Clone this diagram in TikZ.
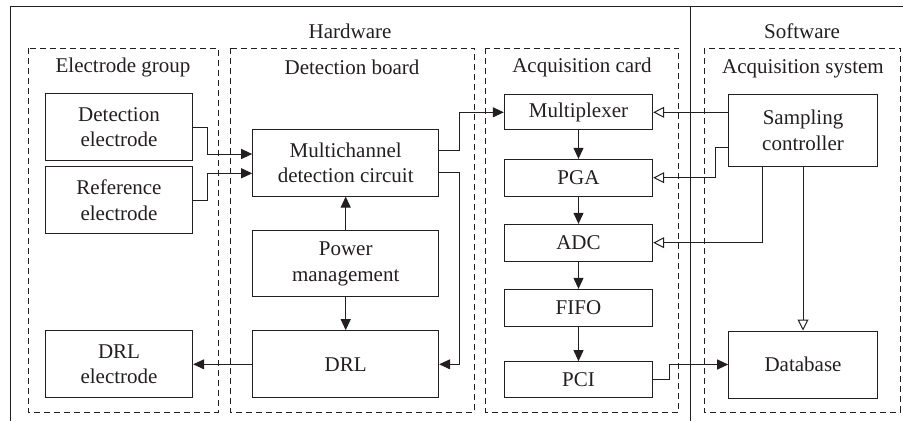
\documentclass[tikz,border=0pt]{standalone}
\usepackage{fontspec}
\setmainfont{Liberation Serif}
\usetikzlibrary{arrows.meta}
\definecolor{ink}{HTML}{231F20}
\begin{document}
\begin{tikzpicture}[x=1pt,y=-1pt,
  every node/.style={text=ink,font=\fontsize{21}{25.5}\selectfont},
  box/.style={draw=ink,line width=1pt,align=center,inner sep=0pt},
  grp/.style={draw=ink,line width=1pt,dash pattern=on 6pt off 4pt},
  fa/.style={draw=ink,line width=1pt,-{Triangle[length=11pt,width=10pt]}},
  oa/.style={draw=ink,line width=1pt,-{Triangle[open,length=11pt,width=11pt]}},
  ln/.style={draw=ink,line width=1pt}]
\useasboundingbox (0,0) rectangle (903,421);
% frame
\draw[ln] (10,421) -- (10,6) -- (903,6);
\draw[ln] (690.7,6) -- (690.7,421);
\node (hw) at (350,31) {Hardware};
\node (sw) at (802,31) {Software};
% groups
\draw[grp] (28,48) rectangle (218,412);
\draw[grp] (230,48) rectangle (474.3,412);
\draw[grp] (485.7,48) rectangle (678.7,412);
\draw[grp] (704.3,48) rectangle (900.7,412);
\node (t1) at (123,67) {Electrode group};
\node (t2) at (352,67) {Detection board};
\node (t3) at (582,67) {Acquisition card};
\node (t4) at (803,69) {Acquisition system};
% nodes
\node[box,minimum width=147.4pt,minimum height=67.4pt] (det) at (119,127) {Detection\\electrode};
\node[box,minimum width=147.4pt,minimum height=67.3pt] (ref) at (119,200.3) {Reference\\electrode};
\node[box,minimum width=147.4pt,minimum height=67.3pt] (drle) at (119,364.3) {DRL\\electrode};
\node[box,minimum width=186pt,minimum height=66.7pt] (mc) at (345.7,162.7) {Multichannel\\detection circuit};
\node[box,minimum width=186pt,minimum height=66pt] (pow) at (345.7,263.7) {Power\\management};
\node[box,minimum width=186pt,minimum height=67.3pt] (drl) at (345.7,364.3) {DRL};
\node[box,minimum width=148.4pt,minimum height=35.3pt] (mux) at (578.5,112.3) {Multiplexer};
\node[box,minimum width=148.4pt,minimum height=36.7pt] (pga) at (578.5,177.7) {PGA};
\node[box,minimum width=148.4pt,minimum height=36.7pt] (adc) at (578.5,242.7) {ADC};
\node[box,minimum width=148.4pt,minimum height=36.7pt] (fifo) at (578.5,307.7) {FIFO};
\node[box,minimum width=148.4pt,minimum height=36.3pt] (pci) at (578.5,379.8) {PCI};
\node[box,minimum width=148.6pt,minimum height=72.4pt] (sc) at (803,130.5) {Sampling\\controller};
\node[box,minimum width=148.6pt,minimum height=67pt] (db) at (803,364.5) {Database};
% connectors
\draw[fa] (det.east) -- ++(14,0) |- ([yshift=8.7pt]mc.west);
\draw[fa] (ref.east) -- ++(14,0) |- ([yshift=-10.6pt]mc.west);
\draw[fa] ([yshift=12.7pt]mc.east) -- ++(20.6,0) |- (mux.west);
\draw[fa] ([yshift=-10pt]mc.east) -- ++(20.6,0) |- (drl.east);
\draw[fa] (pow.north) -- (mc.south);
\draw[fa] (pow.south) -- (drl.north);
\draw[fa] (drl.west) -- (drle.east);
\draw[fa] (mux.south) -- (pga.north);
\draw[fa] (pga.south) -- (adc.north);
\draw[fa] (adc.south) -- (fifo.north);
\draw[fa] (fifo.south) -- (pci.north);
\draw[oa] (sc.west |- mux.east) -- (mux.east);
\draw[oa] ([yshift=-17.2pt]sc.west) -- ++(-12.7,0) |- (pga.east);
\draw[oa] ([xshift=-40.3pt]sc.south) |- (adc.east);
\draw[oa] (sc.south) -- (db.north);
\draw[fa] (pci.east) -- ++(16.3,0) |- (db.west);
\end{tikzpicture}
\end{document}
